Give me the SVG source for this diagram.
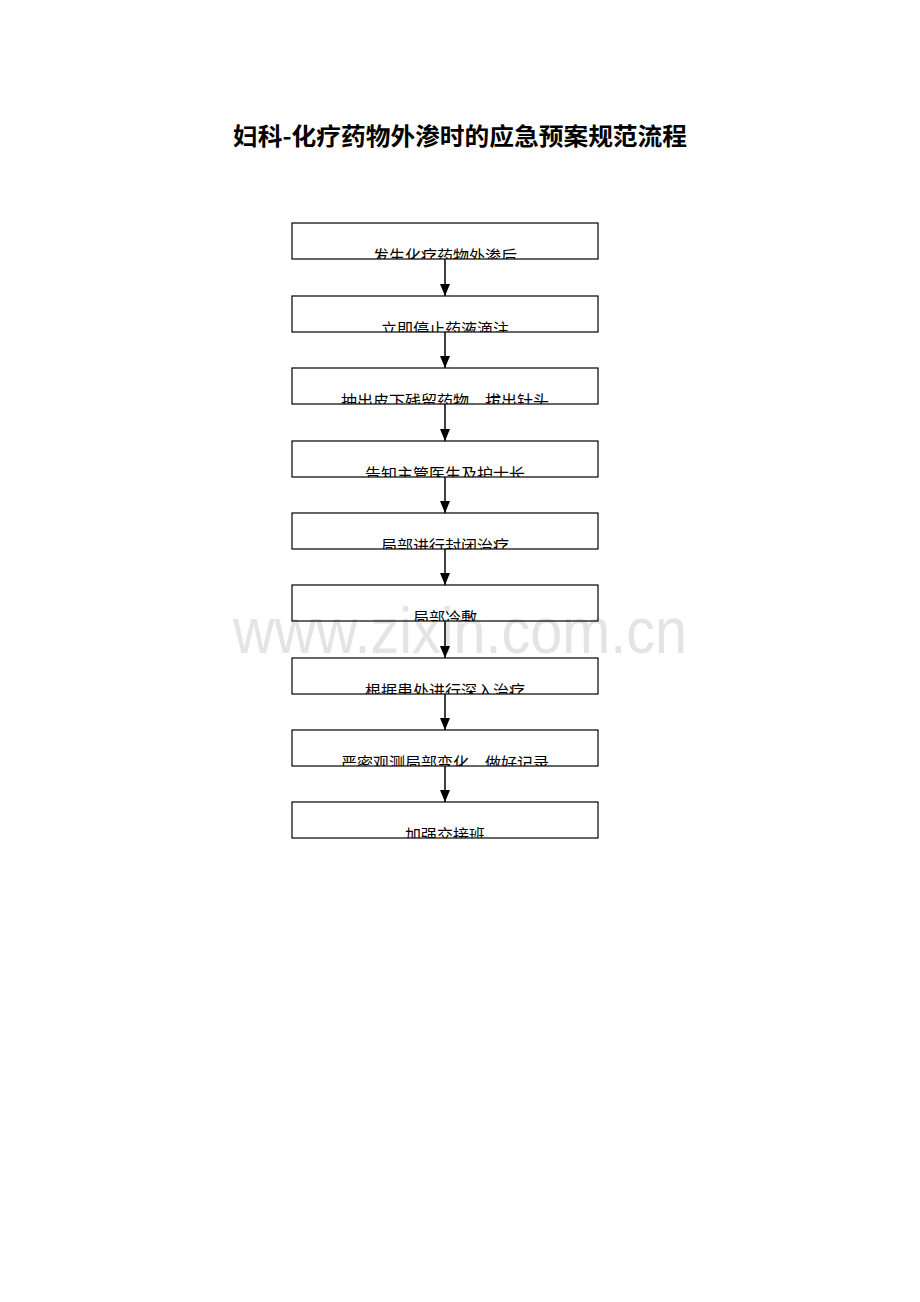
<svg xmlns="http://www.w3.org/2000/svg" width="920" height="1302" viewBox="0 0 920 1302">
<style>
.box{fill:none;stroke:#000;stroke-width:1.2}
.lbl{font-family:"Noto Sans CJK SC","Noto Sans",sans-serif;font-size:16px;fill:#000;text-anchor:middle}
.title{font-family:"Noto Sans CJK SC","Noto Sans",sans-serif;font-size:24px;font-weight:bold;fill:#000;text-anchor:middle}
.wm{font-family:"Liberation Sans",Arial,sans-serif;font-size:64px;fill:#e4e4e4}
.conn line{stroke:#000;stroke-width:1.5}
</style>
<defs>
<marker id="arr" markerWidth="12" markerHeight="10" refX="12" refY="5" orient="auto" markerUnits="userSpaceOnUse" viewBox="0 0 12 10">
<path d="M0,0 L12,5 L0,10 Z" fill="#000"/>
</marker>
<clipPath id="c1"><rect x="292" y="223" width="306" height="36"/></clipPath>
<clipPath id="c2"><rect x="292" y="296" width="306" height="36"/></clipPath>
<clipPath id="c3"><rect x="292" y="368" width="306" height="36"/></clipPath>
<clipPath id="c4"><rect x="292" y="441" width="306" height="36"/></clipPath>
<clipPath id="c5"><rect x="292" y="513" width="306" height="36"/></clipPath>
<clipPath id="c6"><rect x="292" y="585" width="306" height="36"/></clipPath>
<clipPath id="c7"><rect x="292" y="658" width="306" height="36"/></clipPath>
<clipPath id="c8"><rect x="292" y="730" width="306" height="36"/></clipPath>
<clipPath id="c9"><rect x="292" y="802" width="306" height="36"/></clipPath>
</defs>
<rect width="920" height="1302" fill="#fff"/>
<text id="watermark" class="wm" x="233" y="653" textLength="454" lengthAdjust="spacingAndGlyphs">www.zixin.com.cn</text>
<text id="title" class="title" x="460" y="145" textLength="454" lengthAdjust="spacingAndGlyphs">妇科-化疗药物外渗时的应急预案规范流程</text>
<g id="connectors" class="conn">
<line x1="445" y1="259" x2="445" y2="296" marker-end="url(#arr)"/>
<line x1="445" y1="332" x2="445" y2="368" marker-end="url(#arr)"/>
<line x1="445" y1="404" x2="445" y2="441" marker-end="url(#arr)"/>
<line x1="445" y1="477" x2="445" y2="513" marker-end="url(#arr)"/>
<line x1="445" y1="549" x2="445" y2="585" marker-end="url(#arr)"/>
<line x1="445" y1="621" x2="445" y2="658" marker-end="url(#arr)"/>
<line x1="445" y1="694" x2="445" y2="730" marker-end="url(#arr)"/>
<line x1="445" y1="766" x2="445" y2="802" marker-end="url(#arr)"/>
</g>
<g id="n1"><rect class="box" x="292" y="223" width="306" height="36"/><text class="lbl" x="445" y="262" clip-path="url(#c1)">发生化疗药物外渗后</text></g>
<g id="n2"><rect class="box" x="292" y="296" width="306" height="36"/><text class="lbl" x="445" y="335" clip-path="url(#c2)">立即停止药液滴注</text></g>
<g id="n3"><rect class="box" x="292" y="368" width="306" height="36"/><text class="lbl" x="445" y="407" clip-path="url(#c3)">抽出皮下残留药物，拔出针头</text></g>
<g id="n4"><rect class="box" x="292" y="441" width="306" height="36"/><text class="lbl" x="445" y="480" clip-path="url(#c4)">告知主管医生及护士长</text></g>
<g id="n5"><rect class="box" x="292" y="513" width="306" height="36"/><text class="lbl" x="445" y="552" clip-path="url(#c5)">局部进行封闭治疗</text></g>
<g id="n6"><rect class="box" x="292" y="585" width="306" height="36"/><text class="lbl" x="445" y="624" clip-path="url(#c6)">局部冷敷</text></g>
<g id="n7"><rect class="box" x="292" y="658" width="306" height="36"/><text class="lbl" x="445" y="697" clip-path="url(#c7)">根据患处进行深入治疗</text></g>
<g id="n8"><rect class="box" x="292" y="730" width="306" height="36"/><text class="lbl" x="445" y="769" clip-path="url(#c8)">严密观测局部变化，做好记录</text></g>
<g id="n9"><rect class="box" x="292" y="802" width="306" height="36"/><text class="lbl" x="445" y="841" clip-path="url(#c9)">加强交接班</text></g>
</svg>
